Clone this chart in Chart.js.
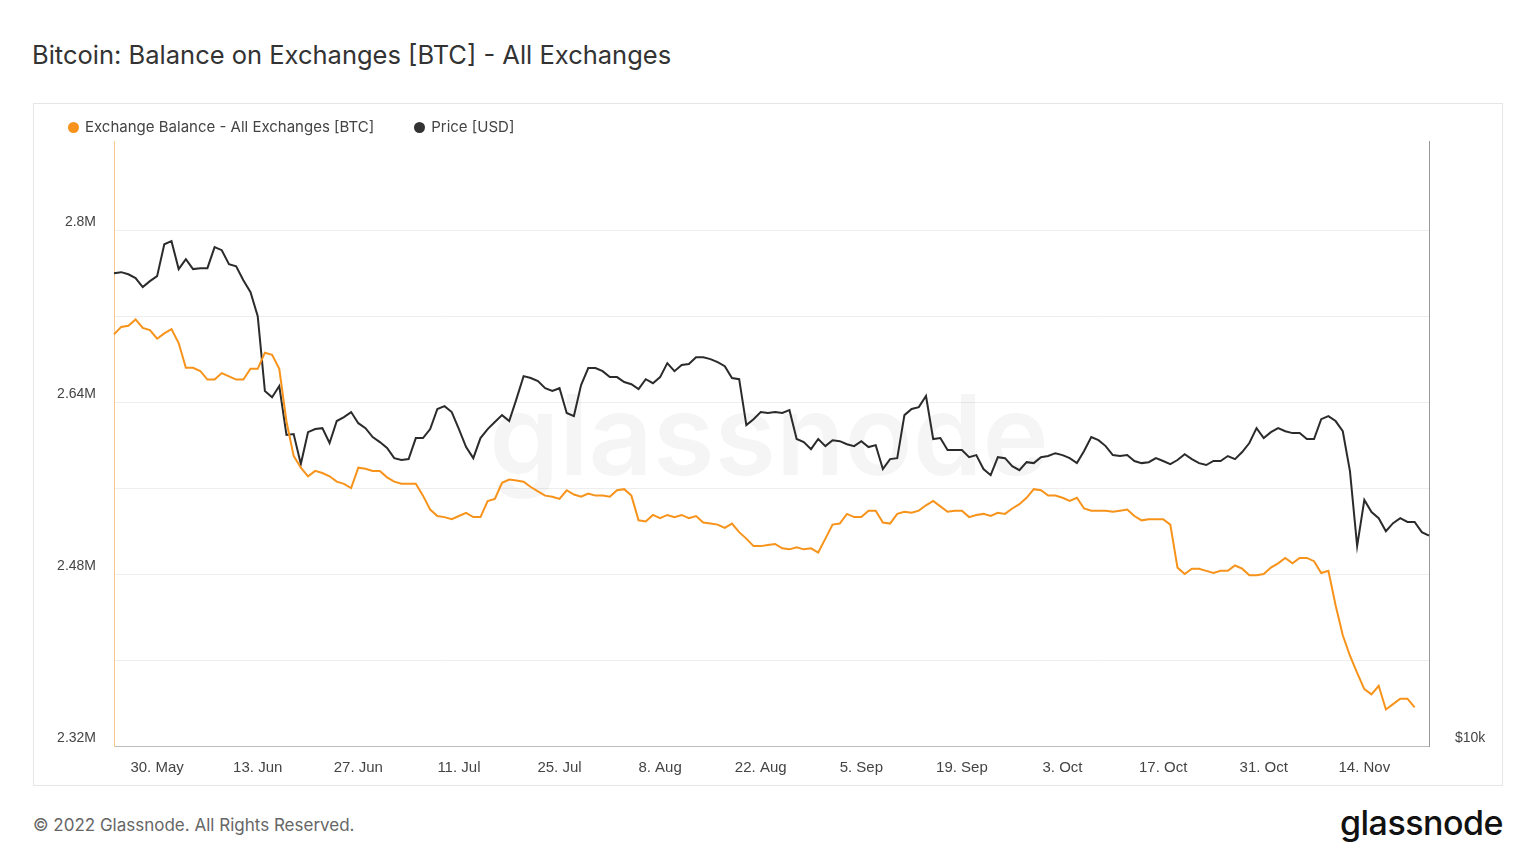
<!DOCTYPE html>
<html><head><meta charset="utf-8">
<script src="https://cdn.jsdelivr.net/npm/chart.js@4"></script>
<style>
body{margin:0;background:#fff;font-family:Inter,"Noto Sans",sans-serif;width:1536px;height:864px;overflow:hidden;position:relative}
#title{position:absolute;left:32px;top:39px;font-size:25.5px;color:#333}
#box{position:absolute;left:33px;top:103px;width:1470px;height:683px;border:1px solid #e6e6e6;box-sizing:border-box}
#legend{position:absolute;left:68px;top:117px;font-size:15px;color:#444;display:flex;gap:40px}
#legend span.d{display:inline-block;width:11px;height:11px;border-radius:50%;margin-right:6px;vertical-align:-1px}
#foot{position:absolute;left:33px;top:815px;font-size:17px;color:#666}
#logo{position:absolute;right:33px;top:802px;font-size:34px;color:#111;letter-spacing:-0.5px;font-weight:500}
</style></head><body>
<div id="title">Bitcoin: Balance on Exchanges [BTC] - All Exchanges</div>
<div id="box"><canvas id="c" width="1468" height="681"></canvas></div>
<div id="legend"><div><span class="d" style="background:#f7931a"></span>Exchange Balance - All Exchanges [BTC]</div><div><span class="d" style="background:#333"></span>Price [USD]</div></div>
<div id="foot">© 2022 Glassnode. All Rights Reserved.</div>
<div id="logo">glassnode</div>
<script>
const startDate = '2022-05-24';
const tickDates = ['30. May','13. Jun','27. Jun','11. Jul','25. Jul','8. Aug','22. Aug','5. Sep','19. Sep','3. Oct','17. Oct','31. Oct','14. Nov'];
// exchange balance in thousands of BTC
const balance = [2703,2710,2711,2717,2709,2707,2699,2704,2708,2695,2672,2672,2669,2661,2661,2667,2664,2661,2661,2671,2671,2686,2684,2671,2622,2590,2579,2571,2576,2574,2571,2566,2564,2560,2579,2578,2576,2576,2570,2566,2564,2564,2564,2553,2540,2534,2533,2531,2534,2537,2533,2533,2548,2550,2565,2568,2567,2566,2561,2557,2553,2552,2550,2558,2554,2552,2555,2553,2553,2552,2558,2559,2553,2530,2529,2535,2532,2535,2533,2535,2532,2534,2528,2527,2526,2523,2527,2519,2513,2506,2506,2507,2508,2504,2503,2505,2503,2504,2500,2513,2526,2527,2536,2533,2533,2539,2539,2528,2527,2536,2538,2537,2539,2544,2548,2543,2538,2539,2539,2533,2535,2536,2534,2537,2536,2541,2545,2551,2559,2558,2553,2553,2551,2548,2551,2541,2539,2539,2539,2538,2539,2540,2534,2530,2531,2531,2531,2526,2486,2480,2485,2485,2483,2481,2483,2483,2488,2485,2479,2479,2480,2486,2490,2495,2490,2495,2495,2492,2481,2483,2451,2423,2404,2388,2373,2368,2376,2354,2359,2364,2364,2356];
const price = [30000,30050,29960,29800,29420,29670,29880,31230,31360,30180,30600,30180,30220,30220,31110,30980,30390,30300,29710,29200,28190,25020,24760,25230,23160,23200,21930,23280,23410,23450,22820,23750,23920,24130,23660,23450,23070,22860,22610,22180,22100,22140,23030,23030,23410,24260,24380,24130,23410,22650,22180,23030,23410,23710,24000,23750,24680,25650,25570,25440,25140,25020,25140,24090,23960,25270,25990,25990,25860,25610,25610,25400,25310,25100,25520,25350,25610,26200,25860,26120,26160,26450,26450,26370,26240,26070,25570,25520,23580,23830,24130,24090,24130,24090,24210,22990,22860,22560,22990,22690,22940,22900,22770,22690,22900,22650,22730,21720,22140,22180,24000,24260,24340,24810,22990,23030,22520,22520,22520,22220,22310,21720,21460,22220,22180,21840,21670,22010,21970,22220,22270,22390,22310,22180,21970,22480,23070,22940,22690,22310,22270,22310,22060,21970,22010,22180,22060,21930,22100,22350,22140,21970,21890,22060,22060,22270,22140,22440,22820,23450,23030,23280,23450,23320,23240,23240,22990,22990,23830,23960,23750,23320,21630,18460,20410,19900,19640,19090,19430,19640,19480,19480,19050,18900];
const n = Math.max(balance.length, price.length);
const labels = [];
for (let i = 0; i < n; i++) { const d = new Date(startDate + 'T00:00:00Z'); d.setUTCDate(d.getUTCDate() + i); labels.push(d.toISOString().slice(0,10)); }
const firstTick = 6;
const watermark = {id:'wm', beforeDatasetsDraw(c){const x=c.ctx;x.save();x.font='600 112px Inter, sans-serif';x.fillStyle='rgba(0,0,0,0.04)';x.textAlign='center';x.textBaseline='middle';x.fillText('glassnode',768-33,440-103);x.restore();}};
new Chart(document.getElementById('c'), {
  type:'line',
  data:{labels, datasets:[
    {data:balance, yAxisID:'y', borderColor:'#f7931a', borderWidth:2, pointRadius:0, tension:0},
    {data:price, yAxisID:'y1', borderColor:'#2b2b2b', borderWidth:2, pointRadius:0, tension:0}
  ]},
  plugins:[watermark],
  options:{responsive:false, animation:false,
    layout:{padding:{top:37,left:0,right:0,bottom:3}},
    plugins:{legend:{display:false}, tooltip:{enabled:false}},
    scales:{
      x:{offset:false, grid:{display:false}, border:{color:'#bbb'},
        ticks:{autoSkip:false, maxRotation:0, color:'#444', font:{size:15}, padding:5,
          callback:(v,i)=> (i>=firstTick && (i-firstTick)%14===0) ? tickDates[(i-firstTick)/14] : null}},
      y:{position:'left', min:2320, max:2883, afterFit:s=>{s.width=80},
        afterBuildTicks:s=>{s.ticks=[2320,2400,2480,2560,2640,2720,2800].map(v=>({value:v}))},
        grid:{color:'#eeeeee', drawTicks:false}, border:{color:'#f9c98a'},
        ticks:{color:'#444', font:{size:14}, padding:18, labelOffset:-8,
          callback:v=> ((v-2320)%160===0) ? (v/1000).toFixed(2).replace(/0$/,'')+'M' : ''}},
      y1:{position:'right', min:10000, max:35600, afterFit:s=>{s.width=73},
        afterBuildTicks:s=>{s.ticks=[{value:10000}]},
        grid:{display:false}, border:{color:'#999'},
        ticks:{color:'#444', font:{size:14}, padding:18, labelOffset:-8, callback:v=>'$10k'}}
    }}
});
</script></body></html>
